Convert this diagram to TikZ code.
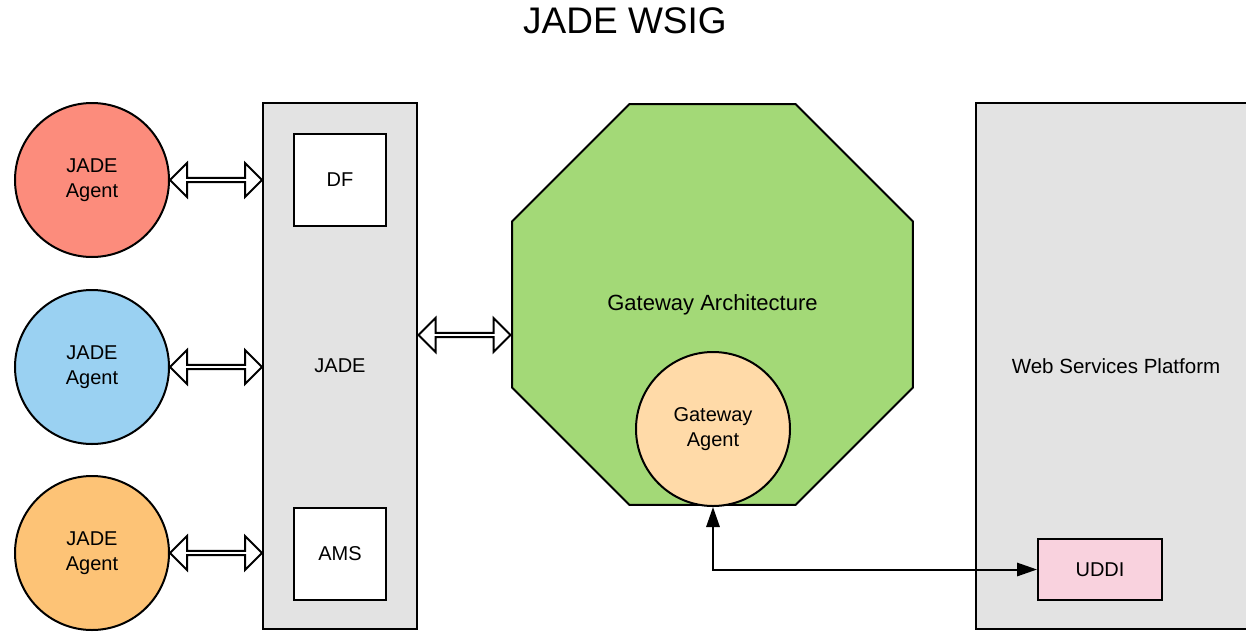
\documentclass[tikz,border=0pt]{standalone}
\usepackage{fontspec}
\setmainfont{Liberation Sans}
\usetikzlibrary{shapes.geometric,shapes.arrows,arrows.meta,calc}

\definecolor{agentred}{RGB}{252,140,124}
\definecolor{agentblue}{RGB}{154,209,242}
\definecolor{agentorange}{RGB}{253,195,118}
\definecolor{gwpeach}{RGB}{255,218,168}
\definecolor{gwgreen}{RGB}{163,217,119}
\definecolor{platgrey}{RGB}{227,227,227}
\definecolor{uddipink}{RGB}{249,210,222}

\tikzset{
  agent/.style={circle, draw, line width=1.5pt, minimum size=115.5pt, inner sep=0pt, align=center},
  platform/.style={rectangle, draw, line width=1.5pt, fill=platgrey, inner sep=0pt, minimum height=394.5pt},
  service/.style={rectangle, draw, line width=1.5pt, fill=white, inner sep=0pt, minimum size=69pt},
  fatarrow/.style={double arrow, draw, line width=1.5pt, fill=white, inner sep=0pt,
    minimum width=25.5pt, double arrow head extend=5pt, double arrow tip angle=90, minimum height=69pt},
  link/.style={line width=1.5pt, {Triangle[length=15pt,width=10pt]}-{Triangle[length=15pt,width=10pt]}}
}

\begin{document}
\begin{tikzpicture}[x=0.75pt,y=-0.75pt,font=\fontsize{15}{18.75}\selectfont]
        \clip (0,0) rectangle (1246,632);
        \node (title) at (625,21) {\fontsize{27.75}{33}\selectfont JADE WSIG};
        % agents on the left
        \node (ra) [agent, fill=agentred] at (92,180) {JADE\\Agent};
        \node (ba) [agent, fill=agentblue] at (92,367) {JADE\\Agent};
        \node (oa) [agent, fill=agentorange] at (92,553) {JADE\\Agent};
        % JADE platform
        \node (jade) [platform, minimum width=115.5pt] at (340,366) {JADE};
        \node (df) [service] at (340,180) {DF};
        \node (ams) [service] at (340,554) {AMS};
        % gateway
        \node (gw) [regular polygon, regular polygon sides=8, draw, line width=1.5pt, fill=gwgreen,
                inner sep=0pt, minimum size=325.5pt, font=\fontsize{16.5}{20}\selectfont]
                at (712.5,304.5) {Gateway Architecture};
        \node (gwa) [agent, fill=gwpeach] at (713,429) {Gateway\\Agent};
        % web services side
        \node (wsp) [platform, minimum width=210pt, font=\fontsize{15.4}{19}\selectfont]
                at (1116,366) {Web Services Platform};
        \node (uddi) [rectangle, draw, line width=1.5pt, fill=uddipink, minimum width=93pt,
                minimum height=45.75pt] at (1100,569.5) {UDDI};
        % connectors
        \path (ra.east) -- (ra.east -| jade.west) node [fatarrow, midway] {};
        \path (ba.east) -- (ba.east -| jade.west) node [fatarrow, midway] {};
        \path (oa.east) -- (oa.east -| jade.west) node [fatarrow, midway] {};
        \path ($(jade.east)+(0,-31)$) coordinate (m1) -- (m1 -| gw.west) node [fatarrow, midway] {};
        \draw [link] (gwa.south) |- (uddi.west);
\end{tikzpicture}
\end{document}
